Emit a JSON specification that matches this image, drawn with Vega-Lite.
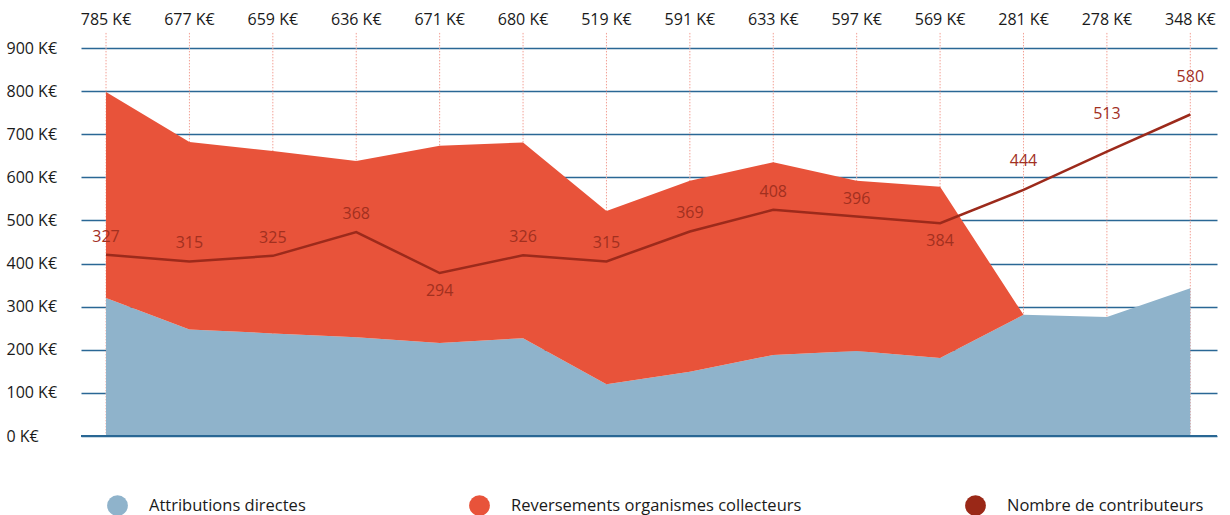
{
  "$schema": "https://vega.github.io/schema/vega-lite/v6.json",
  "width": 1136,
  "height": 388,
  "autosize": "none",
  "padding": {"left": 81, "top": 48, "right": 13, "bottom": 79},
  "background": "white",
  "config": {
    "font": "Open Sans",
    "view": {"stroke": null},
    "text": {"font": "Open Sans"}
  },
  "datasets": {
    "series": [
      {"annee": 2009, "serie": "Attributions directes", "valeur": 320},
      {"annee": 2010, "serie": "Attributions directes", "valeur": 247},
      {"annee": 2011, "serie": "Attributions directes", "valeur": 238},
      {"annee": 2012, "serie": "Attributions directes", "valeur": 229},
      {"annee": 2013, "serie": "Attributions directes", "valeur": 216},
      {"annee": 2014, "serie": "Attributions directes", "valeur": 227},
      {"annee": 2015, "serie": "Attributions directes", "valeur": 120},
      {"annee": 2016, "serie": "Attributions directes", "valeur": 149},
      {"annee": 2017, "serie": "Attributions directes", "valeur": 188},
      {"annee": 2018, "serie": "Attributions directes", "valeur": 197},
      {"annee": 2019, "serie": "Attributions directes", "valeur": 181},
      {"annee": 2020, "serie": "Attributions directes", "valeur": 281},
      {"annee": 2021, "serie": "Attributions directes", "valeur": 276},
      {"annee": 2022, "serie": "Attributions directes", "valeur": 343},
      {"annee": 2009, "serie": "Reversements organismes collecteurs", "valeur": 478},
      {"annee": 2010, "serie": "Reversements organismes collecteurs", "valeur": 435},
      {"annee": 2011, "serie": "Reversements organismes collecteurs", "valeur": 423},
      {"annee": 2012, "serie": "Reversements organismes collecteurs", "valeur": 409},
      {"annee": 2013, "serie": "Reversements organismes collecteurs", "valeur": 457},
      {"annee": 2014, "serie": "Reversements organismes collecteurs", "valeur": 454},
      {"annee": 2015, "serie": "Reversements organismes collecteurs", "valeur": 402},
      {"annee": 2016, "serie": "Reversements organismes collecteurs", "valeur": 443},
      {"annee": 2017, "serie": "Reversements organismes collecteurs", "valeur": 447},
      {"annee": 2018, "serie": "Reversements organismes collecteurs", "valeur": 395},
      {"annee": 2019, "serie": "Reversements organismes collecteurs", "valeur": 397},
      {"annee": 2020, "serie": "Reversements organismes collecteurs", "valeur": 0},
      {"annee": 2021, "serie": "Reversements organismes collecteurs", "valeur": 0},
      {"annee": 2022, "serie": "Reversements organismes collecteurs", "valeur": 0}
    ],
    "annees": [
      {"annee": 2009, "total": 785, "contributeurs": 327},
      {"annee": 2010, "total": 677, "contributeurs": 315},
      {"annee": 2011, "total": 659, "contributeurs": 325},
      {"annee": 2012, "total": 636, "contributeurs": 368},
      {"annee": 2013, "total": 671, "contributeurs": 294},
      {"annee": 2014, "total": 680, "contributeurs": 326},
      {"annee": 2015, "total": 519, "contributeurs": 315},
      {"annee": 2016, "total": 591, "contributeurs": 369},
      {"annee": 2017, "total": 633, "contributeurs": 408},
      {"annee": 2018, "total": 597, "contributeurs": 396},
      {"annee": 2019, "total": 569, "contributeurs": 384},
      {"annee": 2020, "total": 281, "contributeurs": 444},
      {"annee": 2021, "total": 278, "contributeurs": 513},
      {"annee": 2022, "total": 348, "contributeurs": 580}
    ]
  },
  "layer": [
    {
      "layer": [
        {
          "data": {"name": "annees"},
          "mark": {"type": "rule", "color": "#f2a095", "strokeWidth": 1, "strokeDash": [1.5, 1.5]},
          "encoding": {
            "x": {"field": "annee", "type": "quantitative", "scale": {"domain": [2008.7, 2022.32], "nice": false, "zero": false}, "axis": null},
            "y": {"datum": 935, "type": "quantitative"},
            "y2": {"datum": 0}
          }
        },
        {
          "data": {"name": "series"},
          "mark": {"type": "area", "interpolate": "linear", "opacity": 1},
          "encoding": {
            "x": {
              "field": "annee", "type": "quantitative",
              "scale": {"domain": [2008.7, 2022.32], "nice": false, "zero": false},
              "axis": {"values": [2009, 2010, 2011, 2012, 2013, 2014, 2015, 2016, 2017, 2018, 2019, 2020, 2021, 2022], "format": "d", "title": null, "ticks": false, "domain": false, "grid": false, "labelFontSize": 16, "labelColor": "#1a1a1a", "labelPadding": 10, "labelFont": "Open Sans"}
            },
            "y": {
              "field": "valeur", "type": "quantitative", "stack": "zero",
              "scale": {"domain": [0, 900], "nice": false},
              "axis": {"values": [0, 100, 200, 300, 400, 500, 600, 700, 800, 900], "title": null, "grid": true, "gridColor": "#2a6795", "gridWidth": 1.5, "ticks": false, "tickSize": 0, "domain": false, "labelAlign": "left", "labelPadding": 75, "labelFontSize": 16, "labelColor": "#1a1a1a", "labelFont": "Open Sans", "labelExpr": "datum.value + ' K€'"}
            },
            "order": {"field": "serie", "sort": "ascending"},
            "color": {
              "field": "serie", "type": "nominal",
              "scale": {"domain": ["Attributions directes", "Reversements organismes collecteurs", "Nombre de contributeurs"], "range": ["#8fb3cb", "#e8533a", "#9a2817"]},
              "legend": {"title": null, "orient": "none", "legendX": 26, "legendY": 447, "direction": "horizontal", "symbolType": "circle", "symbolSize": 430, "symbolStrokeWidth": 0, "symbolOpacity": 1, "columnPadding": 163, "labelFontSize": 16.5, "labelColor": "#1a1a1a", "labelFont": "Open Sans", "labelOffset": 21, "gridAlign": "none", "labelLimit": 400}
            }
          }
        },
        {
          "data": {"name": "annees"},
          "mark": {"type": "rule", "color": "#2a6795", "strokeWidth": 1.5},
          "encoding": {
            "y": {"datum": 0, "type": "quantitative"}
          }
        },
        {
          "data": {"name": "annees"},
          "transform": [{"calculate": "datum.total + ' K€'", "as": "etiquette"}],
          "mark": {"type": "text", "fontSize": 16, "color": "#1a1a1a", "baseline": "middle", "align": "center"},
          "encoding": {
            "x": {"field": "annee", "type": "quantitative"},
            "y": {"datum": 965, "type": "quantitative"},
            "text": {"field": "etiquette"}
          }
        }
      ]
    },
    {
      "data": {"name": "annees"},
      "encoding": {
        "x": {"field": "annee", "type": "quantitative"},
        "y": {"field": "contributeurs", "type": "quantitative", "scale": {"domain": [0, 700], "nice": false}, "axis": null}
      },
      "layer": [
        {
          "mark": {"type": "line", "color": "#9c2a1b", "strokeWidth": 2.5, "interpolate": "linear"}
        },
        {
          "transform": [{"filter": {"field": "annee", "oneOf": [2009, 2010, 2011, 2012, 2014, 2015, 2016, 2017, 2018]}}],
          "mark": {"type": "text", "fontSize": 16, "color": "#a2301f", "baseline": "middle", "align": "center", "dy": -18},
          "encoding": {"text": {"field": "contributeurs"}}
        },
        {
          "transform": [{"filter": {"field": "annee", "oneOf": [2013, 2019]}}],
          "mark": {"type": "text", "fontSize": 16, "color": "#a2301f", "baseline": "middle", "align": "center", "dy": 18},
          "encoding": {"text": {"field": "contributeurs"}}
        },
        {
          "transform": [{"filter": {"field": "annee", "oneOf": [2020]}}],
          "mark": {"type": "text", "fontSize": 16, "color": "#a2301f", "baseline": "middle", "align": "center", "dy": -29},
          "encoding": {"text": {"field": "contributeurs"}}
        },
        {
          "transform": [{"filter": {"field": "annee", "oneOf": [2021, 2022]}}],
          "mark": {"type": "text", "fontSize": 16, "color": "#a2301f", "baseline": "middle", "align": "center", "dy": -38},
          "encoding": {"text": {"field": "contributeurs"}}
        }
      ]
    }
  ],
  "resolve": {"scale": {"y": "independent"}}
}
